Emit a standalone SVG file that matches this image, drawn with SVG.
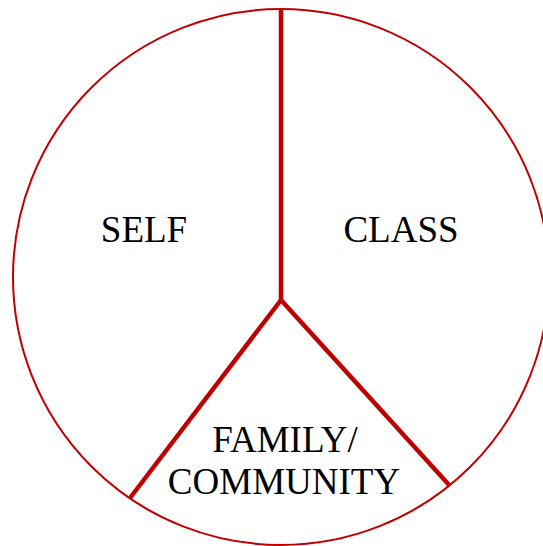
<svg xmlns="http://www.w3.org/2000/svg" width="543" height="546" viewBox="0 0 543 546">
<style>
.lbl{font-family:"Liberation Serif","Times New Roman",serif;font-size:37px;fill:#000;text-anchor:middle}
.div{stroke:#c00000;stroke-width:4.5;fill:none;stroke-linecap:butt}
</style>
<rect width="543" height="546" fill="#fff"/>
<g id="circle"><circle cx="281" cy="277" r="268" fill="none" stroke="#c00000" stroke-width="2"/></g>
<g id="connectors">
<line class="div" x1="281" y1="9" x2="281" y2="300"/>
<line class="div" x1="281" y1="300" x2="130" y2="498"/>
<line class="div" x1="281" y1="300" x2="450" y2="486"/>
</g>
<g id="self"><text class="lbl" x="144" y="242">SELF</text></g>
<g id="class"><text class="lbl" x="401" y="242">CLASS</text></g>
<g id="family"><text class="lbl" x="285" y="452">FAMILY/</text><text class="lbl" x="284" y="494">COMMUNITY</text></g>
</svg>
